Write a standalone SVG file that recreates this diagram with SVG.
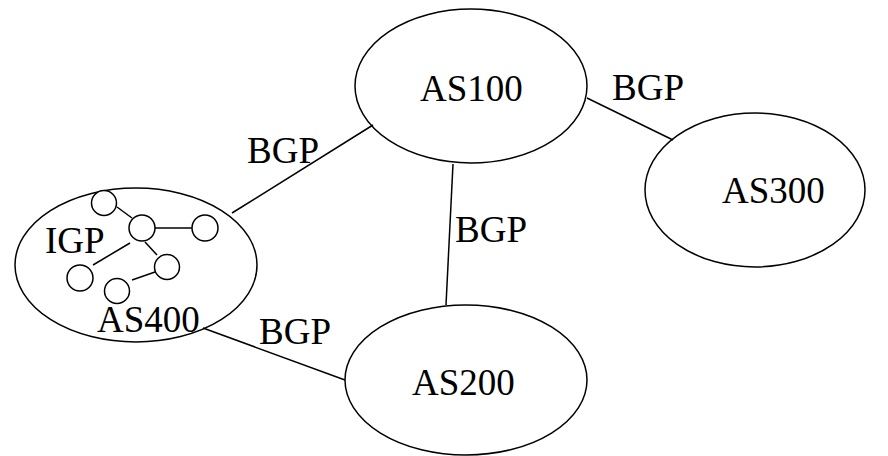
<svg xmlns="http://www.w3.org/2000/svg" width="888" height="456" viewBox="0 0 888 456">
<style>
.as{fill:none;stroke:#000;stroke-width:1.5}
.r{fill:#fff;stroke:#000;stroke-width:1.5}
.ln{stroke:#000;stroke-width:1.5;fill:none}
text{font-family:"Liberation Serif","Times New Roman",serif;font-size:37px;fill:#000}
</style>
<rect width="888" height="456" fill="#fff"/>
<g id="connectors">
<line class="ln" x1="373" y1="125" x2="232" y2="213"/>
<line class="ln" x1="587" y1="98" x2="673" y2="140"/>
<line class="ln" x1="453" y1="164" x2="446" y2="305"/>
<line class="ln" x1="203" y1="328" x2="345" y2="380"/>
<text x="247" y="163">BGP</text>
<text x="612" y="100">BGP</text>
<text x="455" y="242">BGP</text>
<text x="259" y="344">BGP</text>
</g>
<g id="AS100">
<ellipse class="as" cx="471" cy="86" rx="116" ry="77"/>
<text x="420" y="101">AS100</text>
</g>
<g id="AS300">
<ellipse class="as" cx="755" cy="190" rx="110" ry="77"/>
<text x="722" y="203">AS300</text>
</g>
<g id="AS200">
<ellipse class="as" cx="466" cy="380" rx="121" ry="75"/>
<text x="412" y="395">AS200</text>
</g>
<g id="AS400">
<ellipse class="as" cx="136" cy="265" rx="121" ry="77"/>
<g id="igp-links">
<line class="ln" x1="117" y1="207" x2="132" y2="218"/>
<line class="ln" x1="155" y1="228" x2="192" y2="228"/>
<line class="ln" x1="130" y1="243" x2="93" y2="265"/>
<line class="ln" x1="145" y1="242" x2="157" y2="255"/>
<line class="ln" x1="155" y1="272" x2="132" y2="280"/>
</g>
<circle class="r" cx="104" cy="203" r="12.5"/>
<circle class="r" cx="142" cy="228" r="13"/>
<circle class="r" cx="205" cy="228" r="13"/>
<circle class="r" cx="167" cy="267" r="12.5"/>
<circle class="r" cx="80" cy="278" r="13"/>
<circle class="r" cx="117" cy="291" r="12.5"/>
<text x="45" y="253">IGP</text>
<text x="97" y="332">AS400</text>
</g>
</svg>
